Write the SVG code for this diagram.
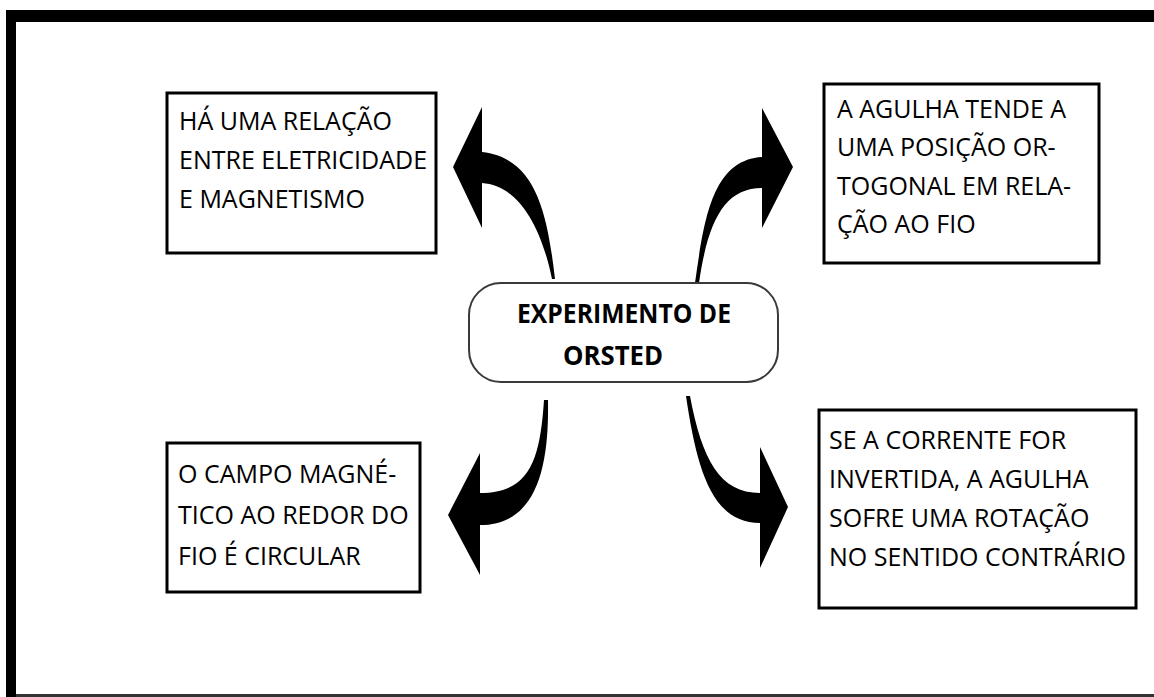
<svg xmlns="http://www.w3.org/2000/svg" width="1154" height="697" viewBox="0 0 1154 697">
<style>
.box{fill:#fff;stroke:#000;stroke-width:3}
.core{fill:#fff;stroke:#3a3a3a;stroke-width:2}
.t{font-family:"Open Sans","Liberation Sans",sans-serif;font-size:25px;fill:#000}
.b{font-family:"Open Sans","Liberation Sans",sans-serif;font-size:27px;font-weight:bold;fill:#000;text-anchor:middle}
.arrow{fill:#000;stroke:none}
</style>
<rect width="1154" height="697" fill="#fff"/>
<g id="frame">
<rect x="6" y="10" width="1148" height="12" fill="#000"/>
<rect x="6" y="10" width="10" height="687" fill="#000"/>
<rect x="16" y="694" width="1138" height="3" fill="#333"/>
</g>
<g id="connectors">
<path class="arrow" d="M555,279 C547,210 535,158 482,152 L482,107 L453,167 L482,228 L482,183 C515,185 540,220 552,279 Z"/>
<path class="arrow" d="M695,283 C704,220 712,160 762,157 L762,108 L793,167 L762,228 L762,188 C725,188 708,220 699,283 Z"/>
<path class="arrow" d="M544,400 C540,460 530,493 480,493 L480,453 L448,515 L480,575 L480,525 C540,525 549,460 548,400 Z"/>
<path class="arrow" d="M686,396 C697,470 712,523 760,523 L760,568 L788,507 L760,447 L760,493 C720,493 702,460 690,396 Z"/>
</g>
<g id="center">
<rect class="core" x="469" y="283" width="309" height="99" rx="32" ry="32"/>
<text class="b" x="624" y="323" textLength="214" lengthAdjust="spacingAndGlyphs">EXPERIMENTO DE</text>
<text class="b" x="613" y="365" textLength="100" lengthAdjust="spacingAndGlyphs">ORSTED</text>
</g>
<g id="n1">
<rect class="box" x="167" y="93" width="269" height="160"/>
<text class="t" x="179" y="130">HÁ UMA RELAÇÃO</text>
<text class="t" x="179" y="169">ENTRE ELETRICIDADE</text>
<text class="t" x="179" y="208">E MAGNETISMO</text>
</g>
<g id="n2">
<rect class="box" x="824" y="84" width="275" height="179"/>
<text class="t" x="837" y="118">A AGULHA TENDE A</text>
<text class="t" x="837" y="156">UMA POSIÇÃO OR-</text>
<text class="t" x="837" y="195">TOGONAL EM RELA-</text>
<text class="t" x="837" y="233">ÇÃO AO FIO</text>
</g>
<g id="n3">
<rect class="box" x="167" y="443" width="253" height="149"/>
<text class="t" x="178" y="483">O CAMPO MAGNÉ-</text>
<text class="t" x="178" y="524">TICO AO REDOR DO</text>
<text class="t" x="178" y="565">FIO É CIRCULAR</text>
</g>
<g id="n4">
<rect class="box" x="819" y="410" width="317" height="198"/>
<text class="t" x="829" y="449">SE A CORRENTE FOR</text>
<text class="t" x="829" y="488">INVERTIDA, A AGULHA</text>
<text class="t" x="829" y="527">SOFRE UMA ROTAÇÃO</text>
<text class="t" x="829" y="566">NO SENTIDO CONTRÁRIO</text>
</g>
</svg>
